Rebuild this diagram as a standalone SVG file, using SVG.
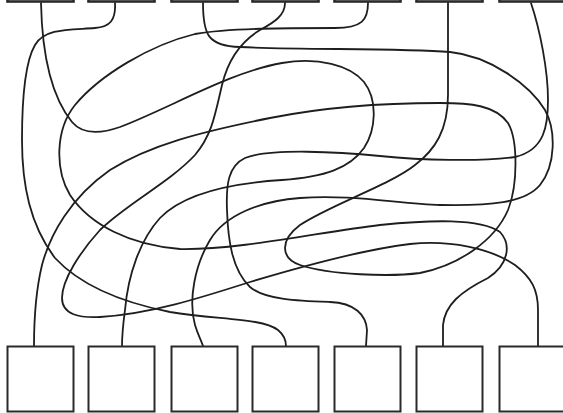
<svg xmlns="http://www.w3.org/2000/svg" width="563" height="413" viewBox="0 0 563 413">
<style>
.box{fill:#fff;stroke:#2a2a2a;stroke-width:2}
.tbox{fill:#fff;stroke:#2a2a2a;stroke-width:2.6}
.wire{fill:none;stroke:#1e1e1e;stroke-width:1.8;stroke-linecap:round;stroke-linejoin:round}
</style>
<rect width="563" height="413" fill="#fff"/>
<g id="connectors">
<path class="wire" d="M41,3 C42,50 50,95 72,122 C82,134 100,134 120,127 C170,108 230,72 282,63 C318,57 350,65 364,82 C378,100 376,130 364,148 C350,168 325,177 282,180 C235,183 185,192 160,218 C140,240 128,275 125,310 C123,325 122,335 122,346"/>
<path class="wire" d="M115,3 C116,20 110,27 95,28 C70,30 45,28 35,45 C25,62 22,100 22,140 C22,185 30,225 55,258 C80,285 120,302 170,312 C220,320 262,318 278,330 C284,335 286,340 286,346"/>
<path class="wire" d="M203,3 C203,35 208,46 240,47 C300,50 400,48 450,52 C490,56 530,85 545,110 C556,130 556,165 540,185 C525,203 490,206 440,205 C400,204 350,194 300,198 C260,201 225,215 210,240 C195,265 188,300 195,325 C198,335 201,340 203,346"/>
<path class="wire" d="M285,3 C285,15 275,22 260,30 C240,42 228,60 222,85 C215,115 212,135 195,155 C170,182 125,205 100,230 C80,252 62,280 62,298 C62,315 80,318 100,317 C150,314 200,298 250,282 C300,267 360,250 410,244 C450,240 490,248 515,265 C532,278 538,290 538,310 L538,346"/>
<path class="wire" d="M368,3 C368,20 362,28 335,28 C290,28 230,28 195,34 C150,45 100,75 75,105 C55,130 55,170 70,195 C90,225 130,245 180,249 C240,250 320,232 380,225 C430,220 480,218 500,232 C512,245 508,265 488,278 C460,292 445,305 443,325 L443,346"/>
<path class="wire" d="M448,3 L448,95 C448,130 435,150 415,165 C390,185 330,205 300,225 C280,240 280,258 300,265 C330,275 390,277 420,273 C460,265 495,240 508,210 C518,185 518,140 508,123 C495,105 470,103 440,103 C380,103 320,108 270,118 C200,132 150,145 110,170 C70,198 50,235 42,265 C36,290 34,320 34,346"/>
<path class="wire" d="M531,3 C540,30 548,70 548,100 C548,125 545,150 515,157 C480,162 420,160 380,156 C340,152 270,148 245,158 C228,166 226,185 227,210 C228,240 232,270 250,287 C265,300 300,301 330,302 C355,303 366,315 367,330 L366,346"/>
</g>
<g id="top1"><rect class="tbox" x="7.5" y="-60" width="66" height="61.5"/></g>
<g id="top2"><rect class="tbox" x="88.5" y="-60" width="66" height="61.5"/></g>
<g id="top3"><rect class="tbox" x="171.5" y="-60" width="66" height="61.5"/></g>
<g id="top4"><rect class="tbox" x="252.5" y="-60" width="66" height="61.5"/></g>
<g id="top5"><rect class="tbox" x="334.5" y="-60" width="66" height="61.5"/></g>
<g id="top6"><rect class="tbox" x="416.5" y="-60" width="66" height="61.5"/></g>
<g id="top7"><rect class="tbox" x="499.5" y="-60" width="66" height="61.5"/></g>
<g id="bottom1"><rect class="box" x="7.5" y="346.5" width="66" height="65"/></g>
<g id="bottom2"><rect class="box" x="88.5" y="346.5" width="66" height="65"/></g>
<g id="bottom3"><rect class="box" x="171.5" y="346.5" width="66" height="65"/></g>
<g id="bottom4"><rect class="box" x="252.5" y="346.5" width="66" height="65"/></g>
<g id="bottom5"><rect class="box" x="334.5" y="346.5" width="66" height="65"/></g>
<g id="bottom6"><rect class="box" x="416.5" y="346.5" width="66" height="65"/></g>
<g id="bottom7"><rect class="box" x="499.5" y="346.5" width="66" height="65"/></g>
</svg>
